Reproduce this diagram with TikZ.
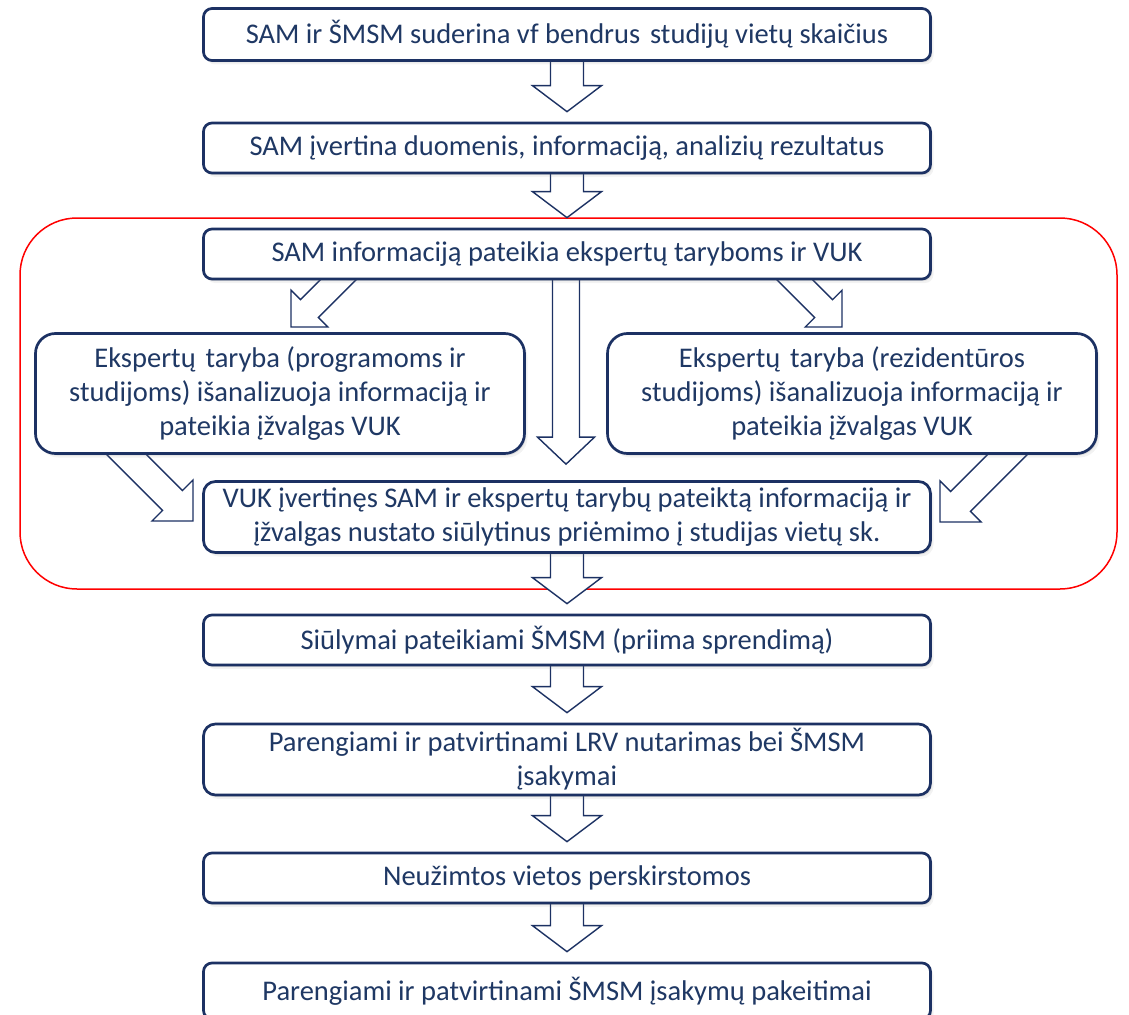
\documentclass[tikz,border=0pt]{standalone}
\usepackage{fontspec}
\setmainfont{Carlito}
\usetikzlibrary{calc,shadows}
\definecolor{navy}{HTML}{1C3163}
\definecolor{txtnavy}{HTML}{1F3864}
\pgfdeclarelayer{bgl}
\pgfdeclarelayer{arl}
\pgfsetlayers{bgl,arl,main}
% #1 start coordinate, #2 tip coordinate, #3 shaft half width, #4 head half width, #5 head length
\newcommand\blockarrow[5]{%
  \coordinate (ba-b) at ($(#2)!#5!(#1)$);
  \draw[blockarr] ($(#1)!#3!90:(#2)$) -- ($(ba-b)!#3!90:(#2)$) -- ($(ba-b)!#4!90:(#2)$) -- (#2)
    -- ($(ba-b)!#4!-90:(#2)$) -- ($(ba-b)!#3!-90:(#2)$) -- ($(#1)!#3!-90:(#2)$) -- cycle;}
\newcommand\wsp{\hspace{0.12em} }
\begin{document}
\begin{tikzpicture}[x=1pt,y=-1pt,
  shadowy/.style={drop shadow={shadow xshift=1.5pt,shadow yshift=-2pt,opacity=.18},
                  drop shadow={shadow xshift=3pt,shadow yshift=-4pt,opacity=.10}},
  box/.style={draw=navy, line width=2.7pt, fill=white, rounded corners=8.5pt,
    minimum width=727pt, minimum height=50pt, inner sep=0pt, align=center,
    text=txtnavy, font=\fontsize{28.5}{34}\selectfont, shadowy},
  sidebox/.style={box, minimum width=489pt, minimum height=120pt, rounded corners=20pt},
  twobox/.style={box, minimum height=71pt, rounded corners=12pt},
  blockarr/.style={draw=navy, line width=1.4pt, fill=white, line join=miter},
  frame/.style={draw=red, line width=1.5pt, rounded corners=57pt}]
\useasboundingbox (0,0) rectangle (1129,1014);
\node[box, minimum height=52pt] (b1) at (567,34.5) {SAM ir ŠMSM suderina vf bendrus\wsp studijų vietų skaičius};
\node[box] (b2) at (567,148) {SAM įvertina duomenis, informaciją, analizių rezultatus};
\node[box] (b3) at (567,254) {SAM informaciją pateikia ekspertų taryboms ir VUK};
\node[sidebox] (lb) at (280,393.5) {Ekspertų\wsp taryba (programoms ir\\studijoms) išanalizuoja informaciją ir\\pateikia įžvalgas VUK};
\node[sidebox] (rb) at (852,393.5) {Ekspertų\wsp taryba (rezidentūros\\studijoms) išanalizuoja informaciją ir\\pateikia įžvalgas VUK};
\node[twobox] (b6) at (567,517) {VUK įvertinęs SAM ir ekspertų tarybų pateiktą informaciją ir\\įžvalgas nustato siūlytinus priėmimo į studijas vietų sk.};
\node[box] (b7) at (567,640) {Siūlymai pateikiami ŠMSM (priima sprendimą)};
\node[twobox] (b8) at (567,759.5) {Parengiami ir patvirtinami LRV nutarimas bei ŠMSM\\įsakymai};
\node[box] (b9) at (567,878) {Neužimtos vietos perskirstomos};
\node[box, minimum height=56pt] (b10) at (567,991) {Parengiami ir patvirtinami ŠMSM įsakymų pakeitimai};

\begin{pgfonlayer}{arl}
  % vertical chain arrows
  \foreach \s/\t in {b1/b2,b2/b3,b6/b7,b7/b8,b8/b9,b9/b10}{
    \coordinate (\s-as) at ($(\s.south)+(0,-12)$);
    \coordinate (\s-at) at ($(\t.north)+(0,-10)$);
    \blockarrow{\s-as}{\s-at}{16.5pt}{34.5pt}{26pt}
  }
  % middle arrow
  \coordinate (m-as) at ($(b3.south)+(-1,-12)$);
  \coordinate (m-at) at ($(b6.north)+(-1,-16)$);
  \blockarrow{m-as}{m-at}{13.5pt}{28.5pt}{27pt}
  % diagonal arrows
  \coordinate (tl-at) at (291,327);
  \coordinate (tl-as) at (351,267);
  \blockarrow{tl-as}{tl-at}{12.7pt}{26pt}{26pt}
  \coordinate (tr-at) at (842,327);
  \coordinate (tr-as) at (782,267);
  \blockarrow{tr-as}{tr-at}{12.7pt}{26pt}{26pt}
  \coordinate (bl-at) at (193,521);
  \coordinate (bl-as) at (103,431);
  \blockarrow{bl-as}{bl-at}{14pt}{29pt}{29pt}
  \coordinate (br-at) at (940,522);
  \coordinate (br-as) at (1030,432);
  \blockarrow{br-as}{br-at}{14pt}{29pt}{29pt}
\end{pgfonlayer}

\begin{pgfonlayer}{bgl}
  \draw[frame] (20,218) rectangle (1117,589);
\end{pgfonlayer}
\end{tikzpicture}
\end{document}
